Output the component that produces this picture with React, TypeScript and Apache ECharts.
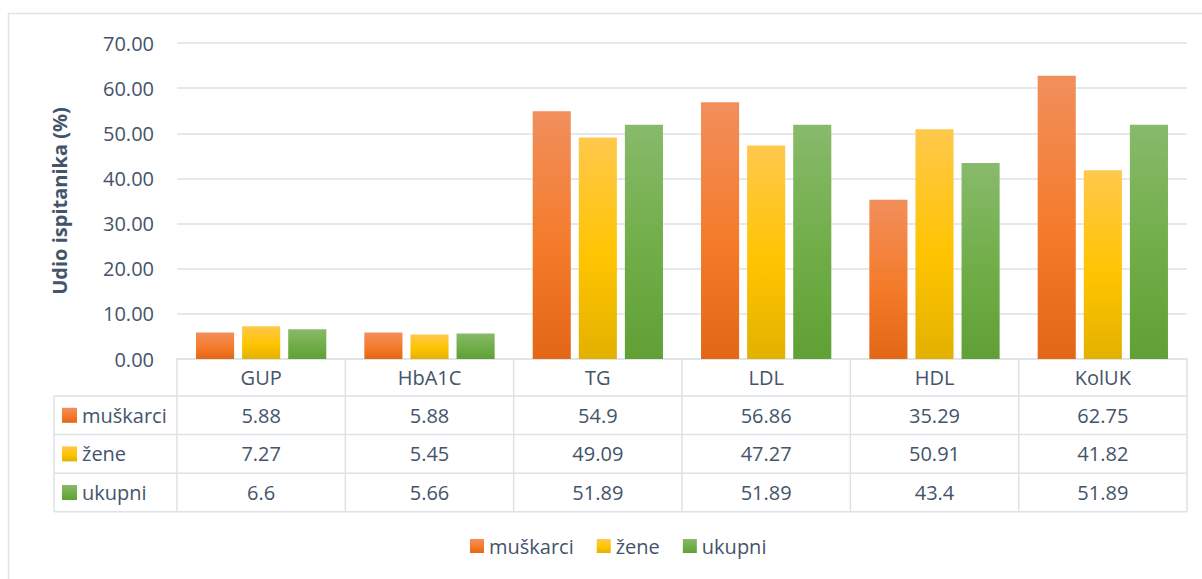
import React, { useEffect, useRef } from "react";
import * as echarts from "echarts";

const categories = ["GUP", "HbA1C", "TG", "LDL", "HDL", "KolUK"];
const seriesNames = ["muškarci", "žene", "ukupni"];
const muskarci = [5.88, 5.88, 54.9, 56.86, 35.29, 62.75];
const zene = [7.27, 5.45, 49.09, 47.27, 50.91, 41.82];
const ukupni = [6.6, 5.66, 51.89, 51.89, 43.4, 51.89];
const yTicks = [0, 10, 20, 30, 40, 50, 60, 70];

const FONT = "'Open Sans', sans-serif";
const FS = 20;
const TXT = "#44546a";
const LINE = "#dde2e8";

const grad = (a: string, b: string, c: string) =>
  new echarts.graphic.LinearGradient(0, 0, 0, 1, [
    { offset: 0, color: a },
    { offset: 0.55, color: b },
    { offset: 1, color: c },
  ]);

const colors = [
  grad("#f18f5c", "#f47b2a", "#e26717"),
  grad("#ffc84c", "#ffc400", "#e2b100"),
  grad("#88ba6b", "#70ad47", "#60a035"),
];

export default function App() {
  const ref = useRef<HTMLDivElement>(null);
  useEffect(() => {
    document.body.style.margin = "0";
    const chart = echarts.init(ref.current!, null, { renderer: "svg" });
    const data = [muskarci, zene, ukupni];
    chart.setOption({
      animation: false,
      textStyle: { fontFamily: FONT },
      grid: { left: 177, right: 15, top: 43, bottom: 220 },
      legend: {
        bottom: 18,
        left: 465,
        itemWidth: 14,
        itemHeight: 14,
        itemGap: 23,
        icon: "rect",
        textStyle: { color: TXT, fontSize: FS, fontFamily: FONT },
        data: seriesNames,
      },
      xAxis: {
        type: "category",
        data: categories,
        axisLine: { show: true, lineStyle: { color: LINE, width: 1.5 } },
        axisTick: { show: false },
        axisLabel: { color: TXT, fontSize: FS, margin: 8, fontFamily: FONT },
      },
      yAxis: {
        type: "value",
        min: yTicks[0],
        max: yTicks[yTicks.length - 1],
        interval: 10,
        name: "Udio ispitanika (%)",
        nameLocation: "middle",
        nameGap: 108,
        nameRotate: 90,
        nameTextStyle: { color: TXT, fontSize: FS, fontWeight: "bold", fontFamily: FONT },
        axisLine: { show: false },
        axisTick: { show: false },
        splitLine: { lineStyle: { color: LINE, width: 1.5 } },
        axisLabel: {
          color: TXT,
          fontSize: FS,
          margin: 23,
          fontFamily: FONT,
          formatter: (v: number) => v.toFixed(2),
        },
      },
      series: seriesNames.map((n, i) => ({
        name: n,
        type: "bar",
        data: data[i],
        barGap: "21%",
        barCategoryGap: "22.6%",
        itemStyle: { color: colors[i] },
      })),
    });

    // Data table built from arrays, positioned via the library's scales
    const centers = categories.map((_, i) => chart.convertToPixel({ xAxisIndex: 0 }, i) as number);
    const bw = centers[1] - centers[0];
    const x0 = centers[0] - bw / 2;
    const x1 = centers[centers.length - 1] + bw / 2;
    const yAxis0 = chart.convertToPixel({ yAxisIndex: 0 }, 0) as number;
    const headerBottom = yAxis0 + 37;
    const rowH = 38.6;
    const tableLeft = 54;
    const g: any[] = [];
    g.push({
      type: "rect",
      shape: { x: 8.5, y: 13.5, width: 1300, height: 700 },
      style: { fill: "none", stroke: "#dfe3e8", lineWidth: 1.5 },
      silent: true,
    });
    for (let r = 0; r <= 3; r++) {
      const y = headerBottom + r * rowH;
      g.push({
        type: "line",
        shape: { x1: tableLeft, y1: y, x2: x1, y2: y },
        style: { stroke: LINE, lineWidth: 1.5 },
        silent: true,
      });
    }
    for (let c = 0; c <= categories.length; c++) {
      const x = x0 + c * bw;
      g.push({
        type: "line",
        shape: { x1: x, y1: yAxis0, x2: x, y2: headerBottom + 3 * rowH },
        style: { stroke: LINE, lineWidth: 1.5 },
        silent: true,
      });
    }
    g.push({
      type: "line",
      shape: { x1: tableLeft, y1: headerBottom, x2: tableLeft, y2: headerBottom + 3 * rowH },
      style: { stroke: LINE, lineWidth: 1.5 },
      silent: true,
    });
    data.forEach((arr, r) => {
      const yc = headerBottom + (r + 0.5) * rowH;
      g.push({
        type: "rect",
        shape: { x: 62, y: yc - 7.5, width: 15, height: 15 },
        style: { fill: colors[r] },
        silent: true,
      });
      g.push({
        type: "text",
        x: 82,
        y: yc,
        style: {
          text: seriesNames[r],
          fill: TXT,
          font: `${FS}px ${FONT}`,
          verticalAlign: "middle",
        },
        silent: true,
      });
      arr.forEach((v, c) => {
        g.push({
          type: "text",
          x: centers[c],
          y: yc,
          style: {
            text: String(v),
            fill: TXT,
            font: `${FS}px ${FONT}`,
            align: "center",
            verticalAlign: "middle",
          },
          silent: true,
        });
      });
    });
    chart.setOption({ graphic: g });
    return () => chart.dispose();
  }, []);
  return <div ref={ref} style={{ width: 1202, height: 579 }} />;
}
